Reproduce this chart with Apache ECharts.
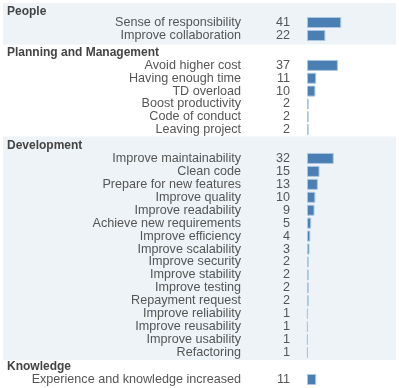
<!DOCTYPE html>
<html>
<head>
<meta charset="utf-8">
<script src="https://cdn.jsdelivr.net/npm/echarts@6/dist/echarts.min.js"></script>
<style>
    html, body { margin: 0; padding: 0; background: #fff; }
    #chart { width: 399px; height: 388px; }
</style>
</head>
<body>
<div id="chart"></div>
<script>
var groupNames = ["People", "Planning and Management", "Development", "Knowledge"];

var peopleLabels = ["Sense of responsibility", "Improve collaboration"];
var peopleValues = [41, 22];

var planningLabels = ["Avoid higher cost", "Having enough time", "TD overload",
    "Boost productivity", "Code of conduct", "Leaving project"];
var planningValues = [37, 11, 10, 2, 2, 2];

var devLabels = ["Improve maintainability", "Clean code", "Prepare for new features",
    "Improve quality", "Improve readability", "Achieve new requirements",
    "Improve efficiency", "Improve scalability", "Improve security",
    "Improve stability", "Improve testing", "Repayment request",
    "Improve reliability", "Improve reusability", "Improve usability", "Refactoring"];
var devValues = [32, 15, 13, 10, 9, 5, 4, 3, 2, 2, 2, 2, 1, 1, 1, 1];

var knowledgeLabels = ["Experience and knowledge increased"];
var knowledgeValues = [11];

// layout of each block: header centre y, grid top, grid height
var blocks = [
    { labels: peopleLabels, values: peopleValues, head: 11, top: 16, height: 26, band: [3, 44.5] },
    { labels: planningLabels, values: planningValues, head: 52, top: 59, height: 77 },
    { labels: devLabels, values: devValues, head: 145, top: 152, height: 207, band: [136.5, 360] },
    { labels: knowledgeLabels, values: knowledgeValues, head: 366, top: 373, height: 13 }
];

var font = "Liberation Sans";
var grids = [], xAxes = [], yAxes = [], series = [], titles = [], graphics = [];

blocks.forEach(function (b, i) {
    if (b.band) {
        graphics.push({
            type: "rect", z: -10, silent: true,
            shape: { x: 3, y: b.band[0], width: 393, height: b.band[1] - b.band[0] },
            style: { fill: "#edf3f7" }
        });
    }
    titles.push({
        text: groupNames[i], left: 7, top: b.head - 5, padding: 0,
        textStyle: { fontFamily: font, fontSize: 12, fontWeight: "bold", color: "#444" }
    });
    grids.push({ left: 307, right: 8.5, top: b.top, height: b.height });
    xAxes.push({
        type: "value", gridIndex: i, min: 0, max: 100, show: false
    });
    // names
    yAxes.push({
        type: "category", gridIndex: i, inverse: true, position: "left", offset: 0,
        data: b.labels,
        axisLine: { show: false }, axisTick: { show: false }, splitLine: { show: false },
        axisLabel: { interval: 0, margin: 66, padding: [2, 0, 0, 0], fontFamily: font, fontSize: 12.6, color: "#555" }
    });
    // counts
    yAxes.push({
        type: "category", gridIndex: i, inverse: true, position: "left", offset: 0,
        data: b.values.map(function (v) { return String(v); }),
        axisLine: { show: false }, axisTick: { show: false }, splitLine: { show: false },
        axisLabel: { interval: 0, margin: 17, padding: [2, 0, 0, 0], fontFamily: font, fontSize: 12.6, color: "#555" }
    });
    series.push({
        type: "bar", xAxisIndex: i, yAxisIndex: i * 2,
        data: b.values, barWidth: 11,
        itemStyle: { color: "#4a7fb4", borderColor: "#a9c6e2", borderWidth: 1 },
        silent: true
    });
});

var myChart = echarts.init(document.getElementById("chart"));
myChart.setOption({
    animation: false,
    title: titles,
    grid: grids,
    xAxis: xAxes,
    yAxis: yAxes,
    series: series,
    graphic: graphics
});
</script>
</body>
</html>
